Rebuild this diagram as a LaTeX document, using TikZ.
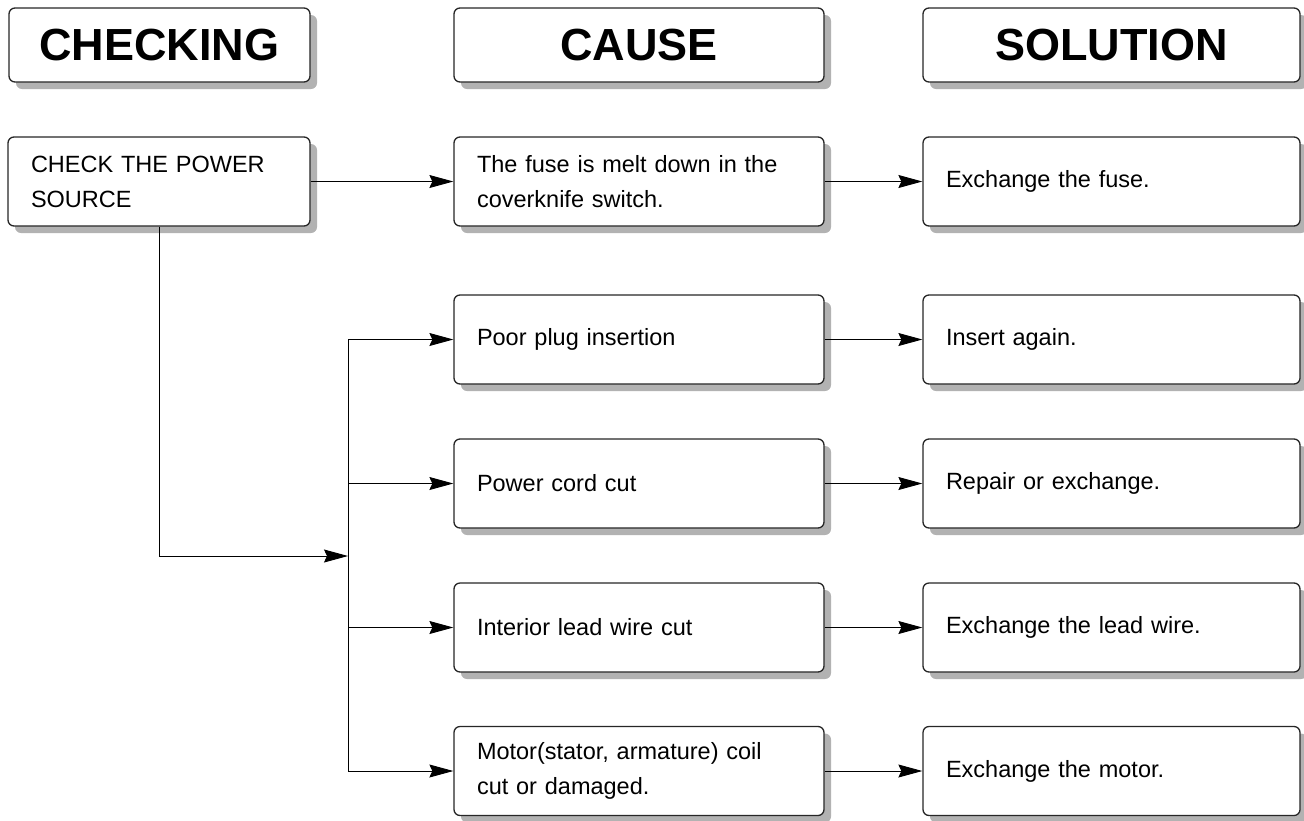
\documentclass[tikz,border=0pt]{standalone}
\usepackage{fontspec}
\setmainfont{Liberation Sans}
\usetikzlibrary{arrows.meta,shadows}

\begin{document}
\begin{tikzpicture}[x=1pt,y=-1pt]
  \tikzset{box/.style={draw=black!85,line width=1.3pt,rounded corners=6pt,fill=white,
      drop shadow={shadow xshift=7pt,shadow yshift=-7pt,fill=black!30,opacity=1},
      inner xsep=23pt,inner ysep=0pt,align=left,minimum height=89pt,
      font=\fontsize{23.5}{35}\selectfont},
    head/.style={box,align=center,minimum height=74pt,
      font=\bfseries\fontsize{45}{50}\selectfont},
    chkbox/.style={box,text width=256pt},
    causebox/.style={box,text width=324pt},
    solbox/.style={box,text width=331pt},
    >={Stealth[length=24pt,width=13pt,inset=3pt]}};
  \useasboundingbox (0,0) rectangle (1304,820);
  % headers
  \node[head,minimum width=301pt] (hA) at (159.5,45){CHECKING};
  \node[head,minimum width=370pt] (hB) at (639,45){CAUSE};
  \node[head,minimum width=377pt] (hC) at (1111.5,45){SOLUTION};
  % checking
  \node[chkbox] (chk) at (159,181.5){CHECK THE POWER\\SOURCE};
  % causes
  \node[causebox] (c0) at (639,181.5){The fuse is melt down in the\\coverknife switch.};
  \node[causebox] (c1) at (639,339.5){Poor plug insertion};
  \node[causebox] (c2) at (639,483.5){Power cord cut};
  \node[causebox] (c3) at (639,627.5){Interior lead wire cut};
  \node[causebox] (c4) at (639,771){Motor(stator, armature) coil\\cut or damaged.};
  % solutions
  \node[solbox] (s0) at (1111.5,181.5){Exchange the fuse.};
  \node[solbox] (s1) at (1111.5,339.5){Insert again.};
  \node[solbox] (s2) at (1111.5,483.5){Repair or exchange.};
  \node[solbox] (s3) at (1111.5,627.5){Exchange the lead wire.};
  \node[solbox] (s4) at (1111.5,771){Exchange the motor.};
  \coordinate (j) at (348,556);
  \draw[line width=0.9pt,->] (chk) -- (c0);
  \draw[line width=0.9pt,->] (chk.south) |- (j);
  \draw[line width=0.9pt] (c1.west -| j) -- (c4.west -| j);
  \foreach \i in {1,...,4}
    \draw[line width=0.9pt,->] (c\i.west -| j) -- (c\i.west);
  \foreach \i in {0,...,4}
    \draw[line width=0.9pt,->] (c\i) -- (s\i);
\end{tikzpicture}
\end{document}
